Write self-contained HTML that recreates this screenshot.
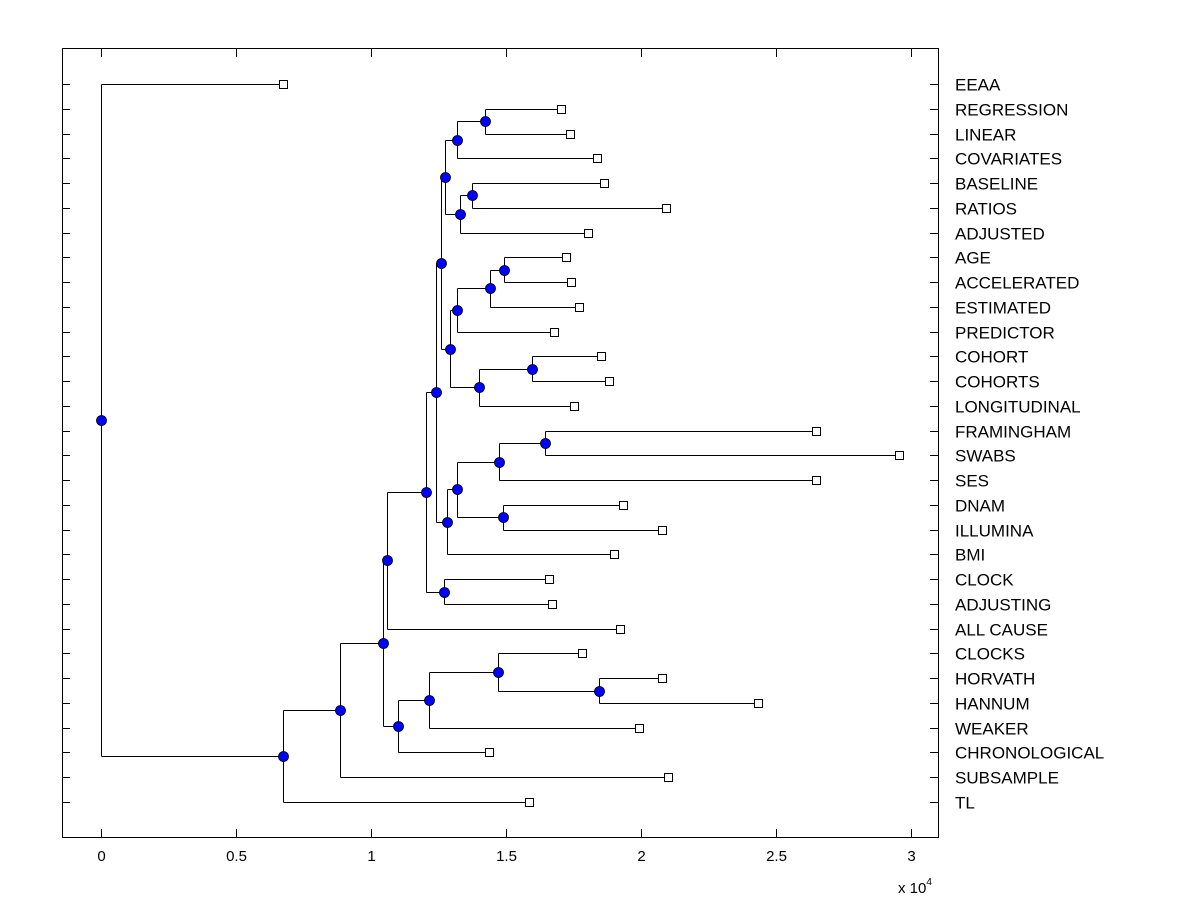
<!DOCTYPE html>
<html><head><meta charset="utf-8"><style>
body{margin:0;background:#fff}
svg text{font-family:"Liberation Sans",Arial,sans-serif;fill:#000}
</style></head><body>
<svg id="chart" width="1200" height="900" viewBox="0 0 1200 900" xmlns="http://www.w3.org/2000/svg">
<rect x="0" y="0" width="1200" height="900" fill="#fff"/>
<rect x="62.5" y="48.5" width="876" height="789" fill="none" stroke="#000" stroke-width="1"/>
<g id="axes"></g><g id="links"></g><g id="marks"></g>
<text x="898" y="893" font-size="15">x 10<tspan dy="-8" font-size="10">4</tspan></text>
</svg>
<script>
const leafLabels=["EEAA","REGRESSION","LINEAR","COVARIATES","BASELINE","RATIOS","ADJUSTED","AGE","ACCELERATED","ESTIMATED","PREDICTOR","COHORT","COHORTS","LONGITUDINAL","FRAMINGHAM","SWABS","SES","DNAM","ILLUMINA","BMI","CLOCK","ADJUSTING","ALL CAUSE","CLOCKS","HORVATH","HANNUM","WEAKER","CHRONOLOGICAL","SUBSAMPLE","TL"];
const leafValues=[0.675,1.704,1.738,1.838,1.863,2.093,1.804,1.723,1.741,1.771,1.678,1.852,1.882,1.752,2.648,2.955,2.648,1.934,2.078,1.900,1.660,1.671,1.923,1.782,2.078,2.434,1.993,1.438,2.100,1.586];
const mergeLeft=[1,30,4,32,31,7,35,36,11,38,37,34,14,42,17,43,45,41,20,47,49,24,23,52,53,50,55,56,0];
const mergeRight=[2,3,5,6,33,8,9,10,12,13,39,40,15,16,18,44,19,46,21,48,22,25,51,26,27,54,28,29,57];
const mergeHeights=[1.423,1.319,1.375,1.330,1.275,1.493,1.441,1.319,1.597,1.401,1.293,1.260,1.645,1.475,1.490,1.319,1.282,1.242,1.271,1.205,1.060,1.845,1.471,1.216,1.101,1.045,0.886,0.675,0];
const xTicks=[0,0.5,1,1.5,2,2.5,3];
const xTickLabels=["0","0.5","1","1.5","2","2.5","3"];

const NS="http://www.w3.org/2000/svg";
const X=v=>100.5+v*270.2;
const rowY=i=>84+i*(718/29);
function mk(tag,attrs,parent){const e=document.createElementNS(NS,tag);for(const k in attrs)e.setAttribute(k,attrs[k]);parent.appendChild(e);return e;}
const axes=document.getElementById('axes'),links=document.getElementById('links'),marks=document.getElementById('marks');

xTicks.forEach((t,i)=>{
  const x=Math.round(X(t))+0.5;
  let l=mk('line',{x1:x,x2:x,y1:837,y2:829,stroke:'#000'},axes);
  
  
  l=mk('line',{x1:x,x2:x,y1:49,y2:57,stroke:'#000'},axes);
  
  
  const tx=mk('text',{x:x,y:861,'font-size':15,'text-anchor':'middle'},axes);
  tx.textContent=xTickLabels[i];
  
  
});
leafLabels.forEach((lab,i)=>{
  const y=Math.round(rowY(i))+0.5;
  let l=mk('line',{x1:62,x2:70,y1:y,y2:y,stroke:'#000'},axes);
  
  
  l=mk('line',{x1:938,x2:930,y1:y,y2:y,stroke:'#000'},axes);
  
  
  const tx=mk('text',{x:955,y:y+6,'font-size':17},axes);
  tx.textContent=lab;
  
  
});

const nX=[],nY=[];
leafValues.forEach((v,i)=>{nX[i]=v;nY[i]=rowY(i);});
mergeHeights.forEach((h,k)=>{
  const a=mergeLeft[k],b=mergeRight[k],id=30+k;
  nX[id]=h;nY[id]=(nY[a]+nY[b])/2;
  const x=Math.round(X(h))+0.5;
  let v=mk('line',{x1:x,x2:x,y1:Math.round(nY[a])+0.5,y2:Math.round(nY[b])+0.5,stroke:'#000'},links);
  
  
  [a,b].forEach(c=>{
    const y=Math.round(nY[c])+0.5;
    const l=mk('line',{x1:x,x2:Math.round(X(nX[c]))+0.5,y1:y,y2:y,stroke:'#000'},links);
    
    
  });
});
leafValues.forEach((v,i)=>{
  const r=mk('rect',{x:Math.round(X(v))-3.5,y:Math.round(nY[i])-3.5,width:8,height:8,fill:'#fff',stroke:'#000'},marks);
  
  
});
mergeHeights.forEach((h,k)=>{
  const id=30+k;
  const c=mk('circle',{cx:Math.round(X(h))+0.5,cy:Math.round(nY[id])+0.5,r:5,fill:'#0000ff',stroke:'#000','stroke-width':0.8},marks);
  
  
});
</script>
</body></html>
